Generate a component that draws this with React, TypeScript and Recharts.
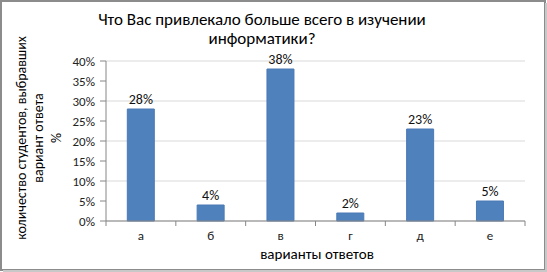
import { BarChart, Bar, XAxis, YAxis, CartesianGrid, LabelList } from 'recharts';

const categories = ['а', 'б', 'в', 'г', 'д', 'е'];
const shares = [28, 4, 38, 2, 23, 5];
const yTicks = [0, 5, 10, 15, 20, 25, 30, 35, 40];

const titleLines = ['Что Вас привлекало больше всего в изучении', 'информатики?'];
const yLabelLines = ['количество студентов, выбравших', 'вариант ответа', '%'];
const xLabel = 'варианты ответов';

const data = categories.map((name, i) => ({ name, value: shares[i] }));

const W = 547;
const H = 272;
const M = { top: 61, right: 22, bottom: 0, left: 0 };
const Y_W = 106;
const X_H = 51;
const FONT = 'Carlito, Calibri, Lato, sans-serif';
const step = (W - M.left - Y_W - M.right) / categories.length;

function XTick(props: any) {
  const { x, y, payload, index } = props;
  const axisY = y - 8;
  return (
    <g>
      <line x1={x - step / 2} x2={x - step / 2} y1={axisY} y2={axisY + 5} stroke="#868686" />
      {index === categories.length - 1 && (
        <line x1={x + step / 2} x2={x + step / 2} y1={axisY} y2={axisY + 5} stroke="#868686" />
      )}
      <text x={x} y={axisY + 14} dy="0.35em" textAnchor="middle" fontSize={13} fill="#222" fontFamily={FONT}>
        {payload.value}
      </text>
    </g>
  );
}

export default function App() {
  return (
    <div style={{ position: 'absolute', left: 0, top: 0, width: W, height: H, background: '#fff' }}>
      <BarChart width={W} height={H} data={data} margin={M} barCategoryGap="30.5%">
        <CartesianGrid vertical={false} stroke="#d9d9d9" />
        <XAxis
          dataKey="name"
          height={X_H}
          axisLine={{ stroke: '#868686' }}
          tickLine={false}
          tickSize={6}
          tickMargin={2}
          tick={<XTick />}
          interval={0}
        />
        <YAxis
          width={Y_W}
          domain={[0, 40]}
          ticks={yTicks}
          tickFormatter={(v) => `${v}%`}
          axisLine={{ stroke: '#868686' }}
          tickLine={{ stroke: '#868686' }}
          tickSize={6}
          tickMargin={5}
          tick={{ fontSize: 13, fill: '#222', fontFamily: FONT }}
        />
        <Bar dataKey="value" fill="#4f81bd" stroke="#4a7ab5" isAnimationActive={false}>
          <LabelList
            dataKey="value"
            position="top"
            offset={5}
            formatter={(v: any) => `${v}%`}
            style={{ fontSize: 14, fill: '#111', fontFamily: FONT }}
          />
        </Bar>
      </BarChart>
      <svg width={W} height={H} style={{ position: 'absolute', left: 0, top: 0, pointerEvents: 'none' }}>
        {titleLines.map((t, i) => (
          <text key={t} x={262} y={19 + i * 19} dy="0.35em" textAnchor="middle" fontSize={17} fontFamily={FONT} fill="#000">
            {t}
          </text>
        ))}
        {yLabelLines.map((t, i) => (
          <text
            key={t}
            x={0}
            y={0}
            dy="0.35em"
            textAnchor="middle"
            fontSize={14}
            fontFamily={FONT}
            fill="#000"
            transform={`translate(${[21, 38, 56][i]}, 138) rotate(-90)`}
          >
            {t}
          </text>
        ))}
        <text x={317} y={254} dy="0.35em" textAnchor="middle" fontSize={15} fontFamily={FONT} fill="#000">
          {xLabel}
        </text>
        <rect x={1} y={1} width={W - 3} height={H - 3} fill="none" stroke="#8c8c8c" strokeWidth={2} />
        <line x1={W - 1} x2={W - 1} y1={3} y2={H} stroke="#c8c8c8" strokeWidth={2} />
        <line x1={3} x2={W} y1={H - 1} y2={H - 1} stroke="#c8c8c8" strokeWidth={2} />
      </svg>
    </div>
  );
}
